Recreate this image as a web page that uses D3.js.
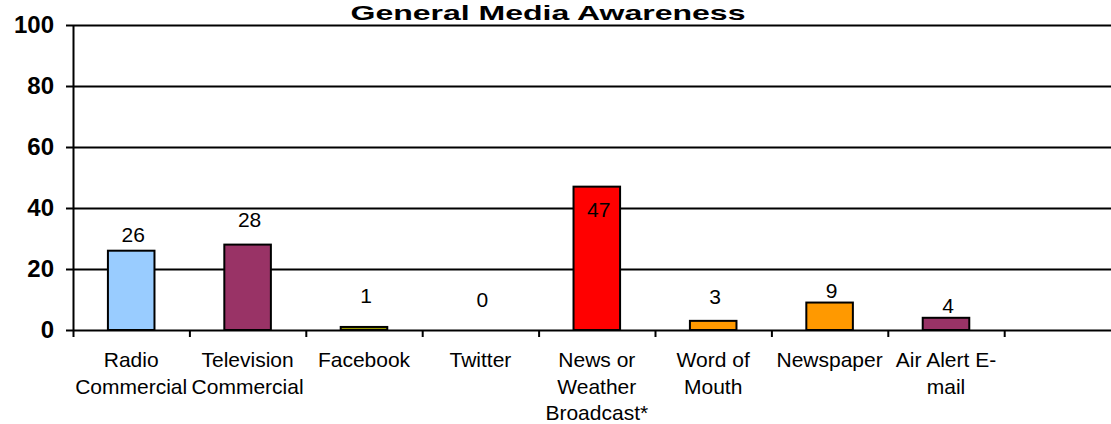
<!DOCTYPE html>
<html>
<head>
<meta charset="utf-8">
<script src="https://cdn.jsdelivr.net/npm/d3@7"></script>
<style>
  body { margin: 0; background: #fff; }
  svg { display: block; font-family: "Liberation Sans", Arial, sans-serif; }
</style>
</head>
<body>
<svg id="chart" width="1111" height="424"></svg>
<script>
// data
const categories = ['Radio Commercial', 'Television Commercial', 'Facebook', 'Twitter',
  'News or Weather Broadcast*', 'Word of Mouth', 'Newspaper', 'Air Alert E-mail', '']
const categoryLines = [['Radio', 'Commercial'], ['Television', 'Commercial'], ['Facebook'], ['Twitter'],
  ['News or', 'Weather', 'Broadcast*'], ['Word of', 'Mouth'], ['Newspaper'], ['Air Alert E-', 'mail'], []]
const values = [26, 28, 1, 0, 47, 3, 9, 4]
const barColors = ['#99ccff', '#993366', '#999900', '#999900', '#ff0000', '#ff9900', '#ff9900', '#993366']
const yTicks = [0, 20, 40, 60, 80, 100]
const title = 'General Media Awareness'

// label offsets above the bar top (px), as Excel placed them
const labelLift = [9, 18, 24, 23, -30, 17, 5, 5]

const svg = d3.select('#chart')
const plotLeft = 73, plotTop = 25, plotBottom = 330
const step = 116.4
const plotRight = plotLeft + step * categories.length

const x = d3.scaleBand().domain(categories).range([plotLeft, plotRight]).padding(0)
const xTick = d3.scaleLinear().domain([0, categories.length]).range([plotLeft, plotRight])
const y = d3.scaleLinear().domain([0, 100]).range([plotBottom, plotTop])

// gridlines
svg.append('g')
  .attr('transform', `translate(${plotLeft},0)`)
  .call(d3.axisLeft(y).tickValues(yTicks.slice(1)).tickSize(-(1111 - plotLeft)).tickFormat(''))
  .call(g => g.select('.domain').remove())
  .selectAll('line').attr('stroke', '#000').attr('stroke-width', 2)

// y axis
svg.append('g')
  .attr('transform', `translate(${plotLeft},0)`)
  .call(d3.axisLeft(y).tickValues(yTicks).tickSize(7).tickSizeOuter(0).tickPadding(12))
  .call(g => g.select('.domain').attr('stroke', '#000').attr('stroke-width', 2))
  .call(g => g.selectAll('line').attr('stroke', '#000').attr('stroke-width', 2))
  .call(g => g.selectAll('text').attr('fill', '#000')
    .style('font-size', '24px').style('font-weight', 'bold')
    .style('font-family', '"Liberation Sans", Arial, sans-serif'))

// bars
svg.selectAll('.bar')
  .data(values)
  .join('rect')
  .attr('class', 'bar')
  .attr('x', (d, i) => x(categories[i]) + x.bandwidth() * 0.3)
  .attr('width', x.bandwidth() * 0.4)
  .attr('y', d => y(d))
  .attr('height', d => y(0) - y(d))
  .attr('fill', (d, i) => barColors[i])
  .attr('stroke', '#000')
  .attr('stroke-width', 2)

// x axis
svg.append('g')
  .attr('transform', `translate(0,${plotBottom})`)
  .call(d3.axisBottom(xTick).ticks(categories.length).tickSize(7).tickSizeOuter(0).tickFormat(''))
  .call(g => g.select('.domain').attr('stroke', '#000').attr('stroke-width', 2))
  .call(g => g.selectAll('line').attr('stroke', '#000').attr('stroke-width', 2))

// category labels
svg.selectAll('.cat')
  .data(categoryLines)
  .join('text')
  .attr('class', 'cat')
  .attr('x', (d, i) => x(categories[i]) + x.bandwidth() / 2)
  .attr('y', 367)
  .attr('text-anchor', 'middle')
  .style('font-size', '21px')
  .selectAll('tspan')
  .data(d => d)
  .join('tspan')
  .attr('x', function () { return this.parentNode.getAttribute('x') })
  .attr('dy', (d, i) => i === 0 ? 0 : 26.5)
  .text(d => d)

// value labels
svg.selectAll('.val')
  .data(values)
  .join('text')
  .attr('class', 'val')
  .attr('x', (d, i) => x(categories[i]) + x.bandwidth() / 2 + 2)
  .attr('y', (d, i) => y(d) - labelLift[i])
  .attr('text-anchor', 'middle')
  .style('font-size', '21px')
  .text(d => d)

// title
svg.append('text')
  .attr('x', 548)
  .attr('y', 20)
  .attr('text-anchor', 'middle')
  .attr('textLength', 395)
  .attr('lengthAdjust', 'spacingAndGlyphs')
  .style('font-size', '21px')
  .style('font-weight', 'bold')
  .text(title)
</script>
</body>
</html>
